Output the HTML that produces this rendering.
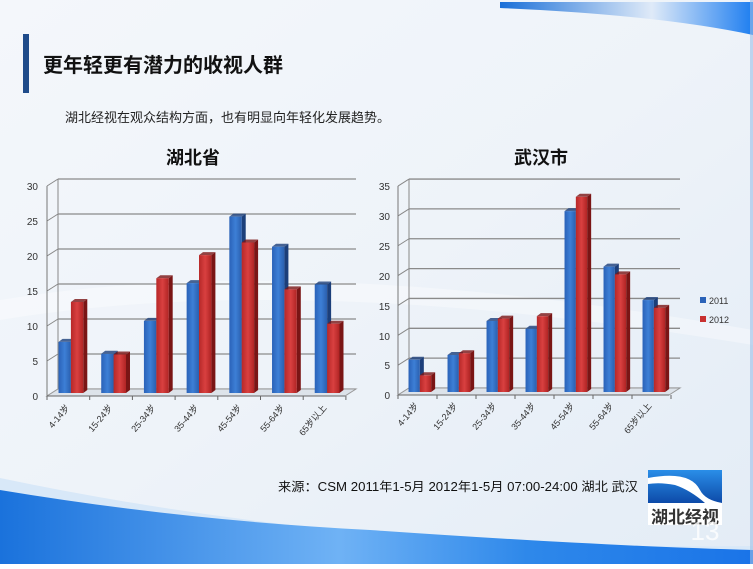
<!DOCTYPE html>
<html><head><meta charset="utf-8"><style>
body{margin:0;width:753px;height:564px;overflow:hidden;font-family:"Liberation Sans","Noto Sans CJK SC",sans-serif}
</style></head><body>
<svg id="s" width="753" height="564" xmlns="http://www.w3.org/2000/svg" font-family="Liberation Sans, Noto Sans CJK SC, sans-serif">
<defs>
<linearGradient id="bg" x1="0" y1="0" x2="1" y2="1"><stop offset="0" stop-color="#f4f7fb"/><stop offset="0.5" stop-color="#eef3f9"/><stop offset="1" stop-color="#e3ecf6"/></linearGradient>
<linearGradient id="bl" x1="0" x2="1"><stop offset="0" stop-color="#2a62b8"/><stop offset="0.5" stop-color="#3d7fd6"/><stop offset="1" stop-color="#2a5fae"/></linearGradient>
<linearGradient id="rd" x1="0" x2="1"><stop offset="0" stop-color="#b72828"/><stop offset="0.5" stop-color="#d94040"/><stop offset="1" stop-color="#b02424"/></linearGradient>
<linearGradient id="rib" x1="0" x2="1"><stop offset="0" stop-color="#1a6fd8"/><stop offset="0.6" stop-color="#dfeaf8"/><stop offset="1" stop-color="#1e7ef0"/></linearGradient>
<linearGradient id="bot" x1="0" x2="1"><stop offset="0" stop-color="#1a72dc"/><stop offset="0.45" stop-color="#6fb2f5"/><stop offset="0.7" stop-color="#2e88ea"/><stop offset="1" stop-color="#1a74e8"/></linearGradient>
<linearGradient id="logo" x1="0" y1="0" x2="0" y2="1"><stop offset="0" stop-color="#2a8ee8"/><stop offset="1" stop-color="#0d4aa8"/></linearGradient>
</defs>
<rect width="753" height="564" fill="url(#bg)"/>
<path d="M0 300 Q300 250 753 330 L753 345 Q300 270 0 320Z" fill="#fff" opacity="0.35"/>
<path d="M500 2 L753 2 L753 35 Q660 15 500 8Z" fill="url(#rib)"/>
<path d="M0 478 Q200 520 420 538 Q600 548 753 546 L753 564 L0 564Z" fill="#d8e8f8"/>
<path d="M0 490 Q180 520 370 530 Q600 546 753 550 L753 564 L0 564Z" fill="url(#bot)"/>
<rect x="750" y="0" width="3" height="564" fill="#9cc0e8" opacity="0.6"/>
<rect x="23" y="34" width="6" height="59" fill="#1f4b8a"/>
<text x="43" y="72" font-size="20" font-weight="bold" fill="#111">更年轻更有潜力的收视人群</text>
<text x="65" y="122" font-size="13" fill="#222">湖北经视在观众结构方面，也有明显向年轻化发展趋势。</text>
<text x="166" y="164" font-size="18" font-weight="bold" fill="#111">湖北省</text>
<text x="514" y="164" font-size="18" font-weight="bold" fill="#111">武汉市</text>
<g font-size="10" fill="#333" text-anchor="end">
<text x="38" y="190">30</text><text x="38" y="225">25</text><text x="38" y="260">20</text><text x="38" y="295">15</text><text x="38" y="330">10</text><text x="38" y="365">5</text><text x="38" y="400">0</text>
<text x="390" y="190">35</text><text x="390" y="220">30</text><text x="390" y="250">25</text><text x="390" y="280">20</text><text x="390" y="310">15</text><text x="390" y="340">10</text><text x="390" y="369">5</text><text x="390" y="399">0</text>
</g>
<g id="c1"></g><g id="c2"></g>
<g font-size="9" fill="#333" text-anchor="end">
<text transform="translate(70,408) rotate(-50)">4-14岁</text>
<text transform="translate(113,408) rotate(-50)">15-24岁</text>
<text transform="translate(156,408) rotate(-50)">25-34岁</text>
<text transform="translate(199,408) rotate(-50)">35-44岁</text>
<text transform="translate(242,408) rotate(-50)">45-54岁</text>
<text transform="translate(285,408) rotate(-50)">55-64岁</text>
<text transform="translate(327,408) rotate(-50)">65岁以上</text>
<text transform="translate(419,406) rotate(-50)">4-14岁</text>
<text transform="translate(458,406) rotate(-50)">15-24岁</text>
<text transform="translate(497,406) rotate(-50)">25-34岁</text>
<text transform="translate(536,406) rotate(-50)">35-44岁</text>
<text transform="translate(575,406) rotate(-50)">45-54岁</text>
<text transform="translate(614,406) rotate(-50)">55-64岁</text>
<text transform="translate(652,406) rotate(-50)">65岁以上</text>
</g>
<rect x="700" y="297" width="6" height="6" fill="#2a62b8"/><text x="709" y="304" font-size="9" fill="#333">2011</text>
<rect x="700" y="316" width="6" height="6" fill="#c83030"/><text x="709" y="323" font-size="9" fill="#333">2012</text>
<text x="278" y="491" font-size="12.5" fill="#111" textLength="360" lengthAdjust="spacingAndGlyphs">来源：CSM  2011年1-5月 2012年1-5月 07:00-24:00  湖北 武汉</text>
<rect x="648" y="470" width="74" height="33" fill="url(#logo)"/>
<path d="M648 478 Q690 470 700 490 Q705 500 722 503 L705 503 Q690 490 675 485 Q660 482 648 484Z" fill="#fff"/>
<rect x="648" y="503" width="74" height="22" fill="#fff"/>
<text x="685" y="523" font-size="17" font-weight="bold" fill="#333" text-anchor="middle">湖北经视</text>
<text x="705" y="540" font-size="26" fill="#fff" opacity="0.8" text-anchor="middle">13</text>
</svg>
<script>
function chart(id,x0,y0,scale,max,step,cw,right,b,r){
 var g=document.getElementById(id),h='';var dx=11,dy=-7;
 for(var v=0;v<=max;v+=step){var y=y0-v*scale;
  h+='<line x1="'+x0+'" y1="'+y+'" x2="'+(x0+dx)+'" y2="'+(y+dy)+'" stroke="#888"/>';
  h+='<line x1="'+(x0+dx)+'" y1="'+(y+dy)+'" x2="'+right+'" y2="'+(y+dy)+'" stroke="#8a8a8a" stroke-width="1.3"/>';}
 h+='<line x1="'+(x0+dx)+'" y1="'+(y0+dy)+'" x2="'+(x0+dx)+'" y2="'+(y0+dy-max*scale)+'" stroke="#888"/>';
 h+='<line x1="'+x0+'" y1="'+y0+'" x2="'+x0+'" y2="'+(y0-max*scale)+'" stroke="#777"/>';
 h+='<polygon points="'+x0+','+y0+' '+(right-dx)+','+y0+' '+right+','+(y0+dy)+' '+(x0+dx)+','+(y0+dy)+'" fill="#dde3ea" stroke="#999"/>';
 h+='<line x1="'+x0+'" y1="'+y0+'" x2="'+(right-dx)+'" y2="'+y0+'" stroke="#666"/>';
 for(var i=0;i<=7;i++){var x=x0+i*cw;h+='<line x1="'+x+'" y1="'+y0+'" x2="'+x+'" y2="'+(y0+4)+'" stroke="#666"/>';}
 var bw=cw*0.29,d=4;
 function bar(x,v,fill,side){var base=y0-3,top=base-v*scale;
  h+='<polygon points="'+(x+bw)+','+base+' '+(x+bw+d)+','+(base-3)+' '+(x+bw+d)+','+(top-3)+' '+(x+bw)+','+top+'" fill="'+side+'"/>';
  h+='<polygon points="'+x+','+top+' '+(x+d)+','+(top-3)+' '+(x+bw+d)+','+(top-3)+' '+(x+bw)+','+top+'" fill="'+side+'" opacity="0.8"/>';
  h+='<rect x="'+x+'" y="'+top+'" width="'+bw+'" height="'+(base-top)+'" fill="'+fill+'"/>';}
 for(var i=0;i<7;i++){var x=x0+i*cw+cw*0.27;bar(x,b[i],'url(#bl)','#1c3f7a');bar(x+bw,r[i],'url(#rd)','#7a1515');}
 g.innerHTML=h;}
chart('c1',47,396,7,30,5,42.7,356,[7.3,5.6,10.3,15.7,25.2,20.9,15.5],[13,5.5,16.4,19.7,21.5,14.8,9.9]);
chart('c2',398,395,5.97,35,5,39,680,[5.4,6.2,11.9,10.6,30.3,21,15.4],[2.8,6.5,12.3,12.7,32.7,19.7,14.1]);
</script>
</body></html>
